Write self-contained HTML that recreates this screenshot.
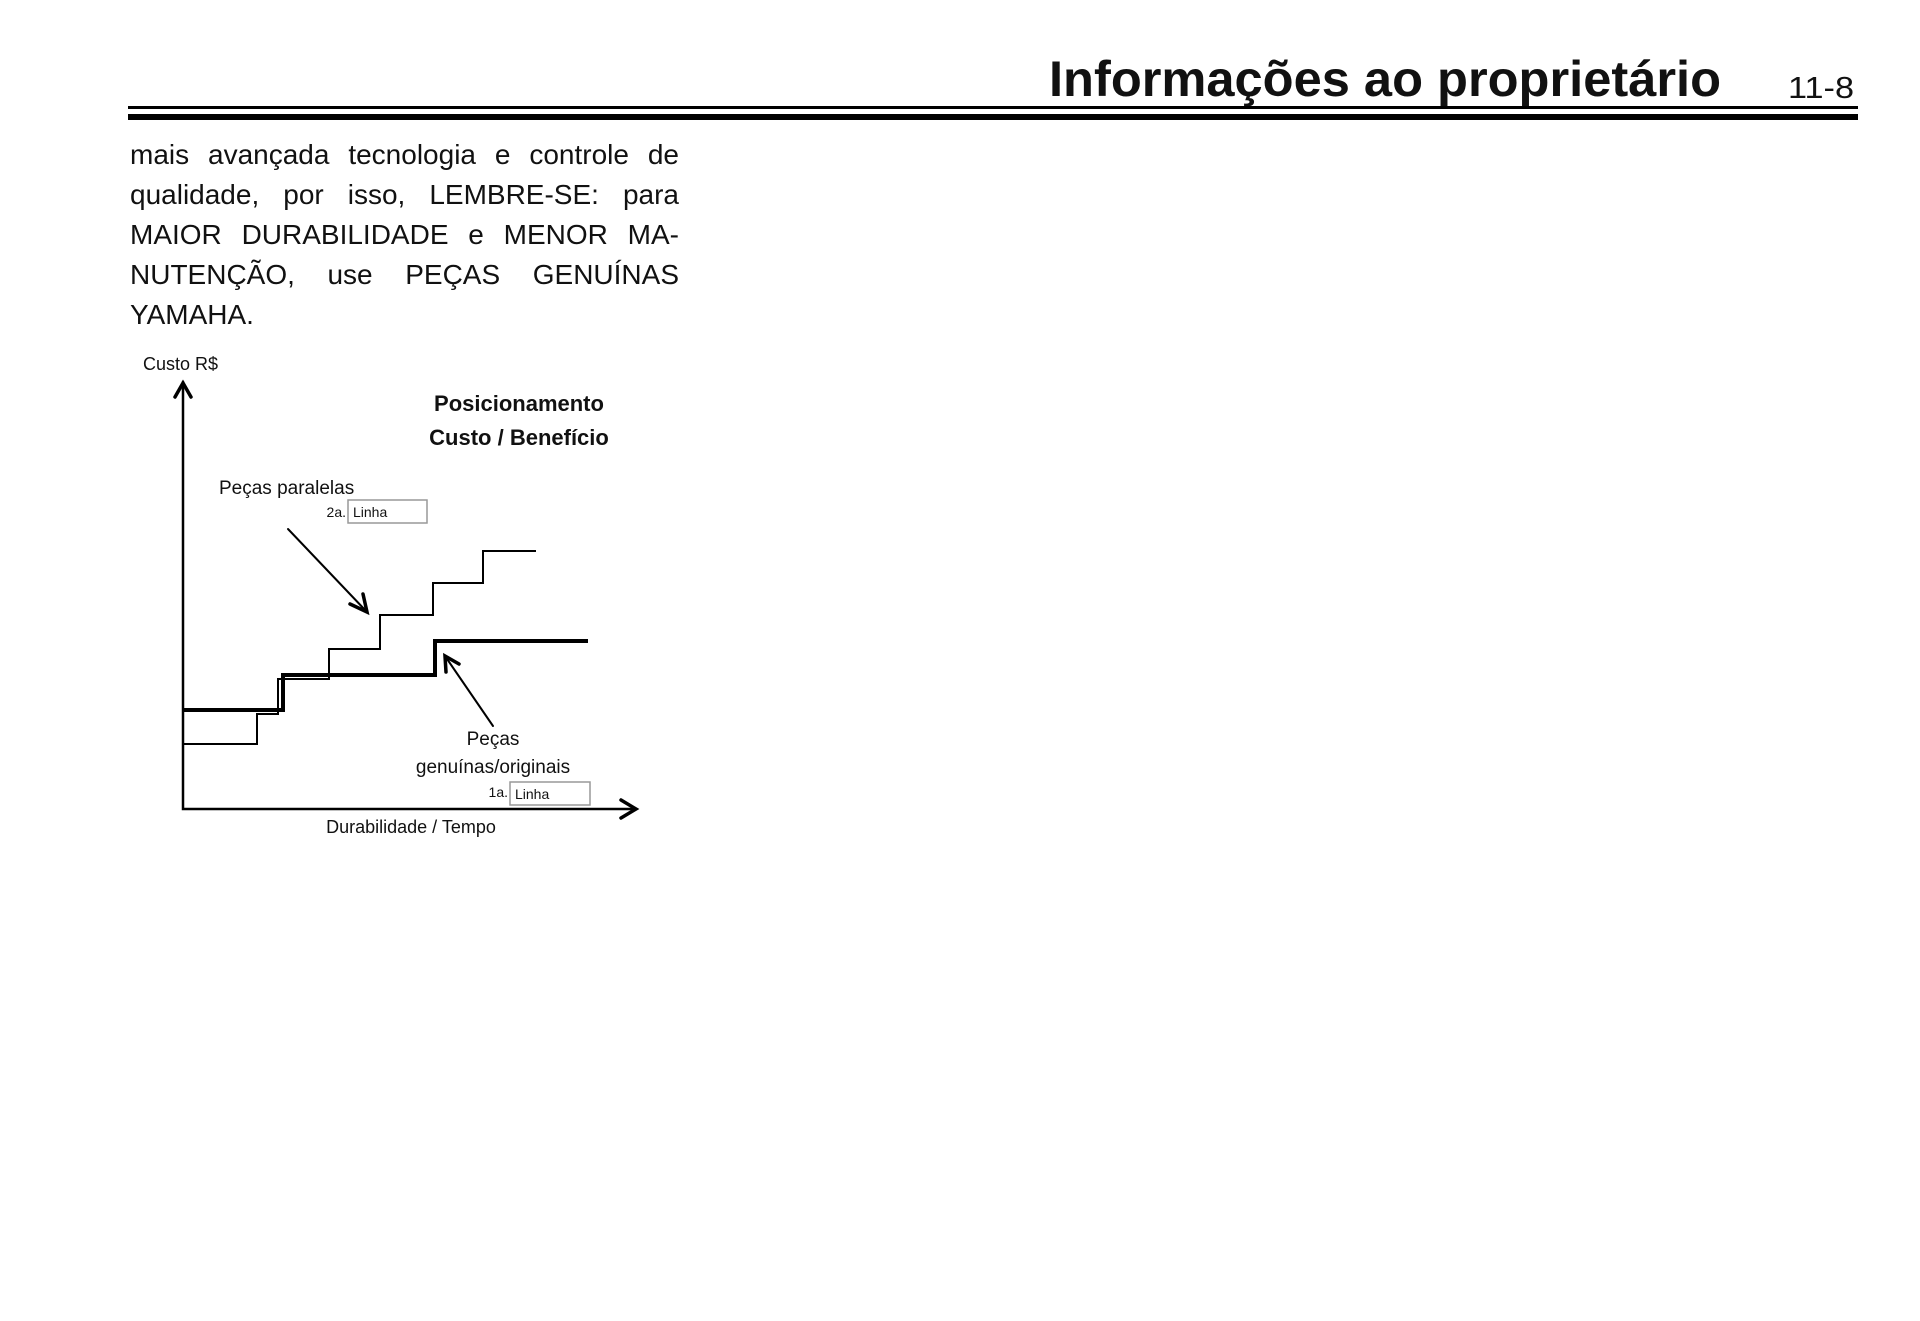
<!DOCTYPE html>
<html><head><meta charset="utf-8"><style>
html,body{margin:0;padding:0;background:#fff;}
svg{display:block;}
text{font-family:"Liberation Sans",Arial,sans-serif;fill:#111;}
.body{position:absolute;left:130px;top:135px;width:549px;font-family:"Liberation Sans",Arial,sans-serif;font-size:28px;line-height:40px;color:#111;}
.body div{white-space:nowrap;text-align:justify;text-align-last:justify;height:40px;}
.body div.last{text-align-last:left;}
</style></head><body>
<svg width="1920" height="1321" viewBox="0 0 1920 1321" xmlns="http://www.w3.org/2000/svg">
<rect width="1920" height="1321" fill="#fff"/>
<text x="1049" y="96" font-size="50" font-weight="bold" textLength="672" lengthAdjust="spacingAndGlyphs">Informações ao proprietário</text>
<text x="1788" y="98" font-size="31" textLength="66" lengthAdjust="spacingAndGlyphs">11-8</text>
<rect x="128" y="106" width="1730" height="3" fill="#000"/>
<rect x="128" y="114" width="1730" height="6" fill="#000"/>
<text x="143" y="370" font-size="18">Custo R$</text>
<text x="519" y="411" font-size="22" font-weight="bold" text-anchor="middle">Posicionamento</text>
<text x="519" y="445" font-size="22" font-weight="bold" text-anchor="middle">Custo / Benefício</text>
<text x="219" y="494" font-size="19">Peças paralelas</text>
<text x="346" y="517" font-size="14" fill="#333" text-anchor="end">2a.</text>
<rect x="348" y="500" width="79" height="23" fill="none" stroke="#999" stroke-width="1.5"/>
<text x="353" y="517" font-size="14" fill="#333">Linha</text>
<g fill="none" stroke="#000" stroke-width="2.5" stroke-linecap="round">
<path d="M183 382 L183 809 L636 809"/>
<path d="M175 397 L183 383 L191 397" stroke-width="3.5"/>
<path d="M621 800 L636 809 L621 818" stroke-width="3.5"/>
</g>
<path d="M183 744 L257 744 L257 714 L278 714 L278 679 L329 679 L329 649 L380 649 L380 615 L433 615 L433 583 L483 583 L483 551 L536 551" fill="none" stroke="#000" stroke-width="2"/>
<path d="M183 710 L283 710 L283 675 L435 675 L435 641 L588 641" fill="none" stroke="#000" stroke-width="4"/>
<g fill="none" stroke="#000" stroke-linecap="round">
<path d="M288 529 L367 612" stroke-width="2"/>
<path d="M350 604 L367 612 L363 594" stroke-width="3.5"/>
<path d="M493 726 L445 656" stroke-width="2"/>
<path d="M446 672 L445 656 L459 664" stroke-width="3.5"/>
</g>
<text x="493" y="745" font-size="19" text-anchor="middle">Peças</text>
<text x="493" y="773" font-size="19" text-anchor="middle">genuínas/originais</text>
<text x="508" y="797" font-size="14" fill="#333" text-anchor="end">1a.</text>
<rect x="510" y="782" width="80" height="23" fill="none" stroke="#999" stroke-width="1.5"/>
<text x="515" y="799" font-size="14" fill="#333">Linha</text>
<text x="411" y="833" font-size="18" text-anchor="middle">Durabilidade / Tempo</text>
</svg>
<div class="body">
<div>mais avançada tecnologia e controle de</div>
<div>qualidade, por isso, LEMBRE-SE: para</div>
<div>MAIOR DURABILIDADE e MENOR MA-</div>
<div>NUTENÇÃO, use PEÇAS GENUÍNAS</div>
<div class="last">YAMAHA.</div>
</div>
</body></html>
